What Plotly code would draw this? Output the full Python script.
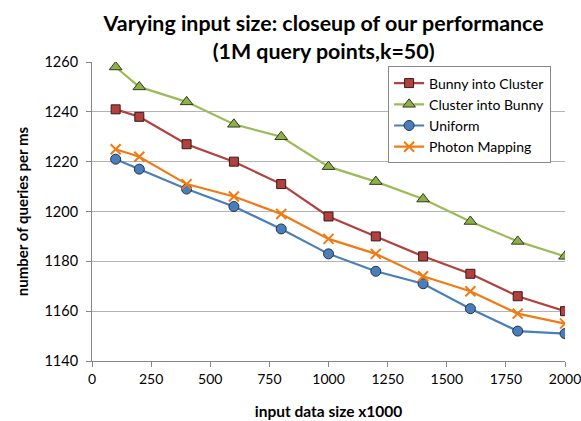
import plotly.graph_objects as go

x_vals = [100, 200, 400, 600, 800, 1000, 1200, 1400, 1600, 1800, 2000]
bunny_into_cluster = [1241, 1238, 1227, 1220, 1211, 1198, 1190, 1182, 1175, 1166, 1160]
cluster_into_bunny = [1258, 1250, 1244, 1235, 1230, 1218, 1212, 1205, 1196, 1188, 1182]
uniform = [1221, 1217, 1209, 1202, 1193, 1183, 1176, 1171, 1161, 1152, 1151]
photon_mapping = [1225, 1222, 1211, 1206, 1199, 1189, 1183, 1174, 1168, 1159, 1155]

x_ticks = [0, 250, 500, 750, 1000, 1250, 1500, 1750, 2000]
y_ticks = [1140, 1160, 1180, 1200, 1220, 1240, 1260]

FONT = "Lato, 'Open Sans', sans-serif"

fig = go.Figure()
fig.add_trace(go.Scatter(
    x=x_vals, y=bunny_into_cluster, name="Bunny into Cluster", mode="lines+markers",
    line=dict(color="#B0413E", width=2.2),
    marker=dict(symbol="square", size=9, color="#B0413E", line=dict(color="#3a1a1a", width=1))))
fig.add_trace(go.Scatter(
    x=x_vals, y=cluster_into_bunny, name="Cluster into Bunny", mode="lines+markers",
    line=dict(color="#9BBB59", width=2.2),
    marker=dict(symbol="triangle-up", size=11, color="#8DB04C", line=dict(color="#2f3d1a", width=1))))
fig.add_trace(go.Scatter(
    x=x_vals, y=uniform, name="Uniform", mode="lines+markers",
    line=dict(color="#4A7EBB", width=2.2),
    marker=dict(symbol="circle", size=10, color="#4A7EBB", line=dict(color="#1f3550", width=1))))
fig.add_trace(go.Scatter(
    x=x_vals, y=photon_mapping, name="Photon Mapping", mode="lines+markers",
    line=dict(color="#F07A14", width=2.2),
    marker=dict(symbol="x-thin", size=10, color="#F07A14", line=dict(color="#F07A14", width=2))))

fig.update_layout(
    width=581, height=421,
    margin=dict(l=92, r=16, t=62, b=60),
    paper_bgcolor="white", plot_bgcolor="white",
    font=dict(family=FONT, size=14, color="black"),
    title=dict(
        text="<b>Varying input size: closeup of our performance<br>(1M query points,k=50)</b>",
        x=0.557, xanchor="center", y=0.926, yanchor="middle",
        font=dict(family=FONT, size=21.4, color="black")),
    showlegend=True,
    legend=dict(
        x=0.626, y=0.985, xanchor="left", yanchor="top",
        bgcolor="white", bordercolor="#888888", borderwidth=1,
        font=dict(family=FONT, size=14, color="black"),
        tracegroupgap=0, itemwidth=30,
    ),
    xaxis=dict(
        range=[0, 2000], tickvals=x_ticks, ticktext=[str(t) for t in x_ticks],
        showgrid=False, showline=True, linecolor="#868686", linewidth=1,
        ticks="outside", ticklen=5, tickcolor="#868686",
        tickfont=dict(family=FONT, size=14), ticklabeloverflow="allow",
        title=dict(text="<b>input data size x1000</b>", font=dict(family=FONT, size=15.5), standoff=20),
        zeroline=False, automargin=False,
    ),
    yaxis=dict(
        range=[1140, 1260], tickvals=y_ticks, ticktext=[str(t) for t in y_ticks],
        showgrid=True, gridcolor="#B3B3B3", gridwidth=1,
        showline=True, linecolor="#868686", linewidth=1,
        ticks="outside", ticklen=5, tickcolor="#868686",
        tickfont=dict(family=FONT, size=14.5), ticklabelstandoff=5,
        title=dict(text="<b>number of queries per ms</b>", font=dict(family=FONT, size=15), standoff=12),
        zeroline=False, automargin=False,
    ),
)

fig.write_html(
    "out.html",
    config={"displayModeBar": False},
    post_script="document.body.style.margin='0px';document.body.style.overflow='hidden';",
)
